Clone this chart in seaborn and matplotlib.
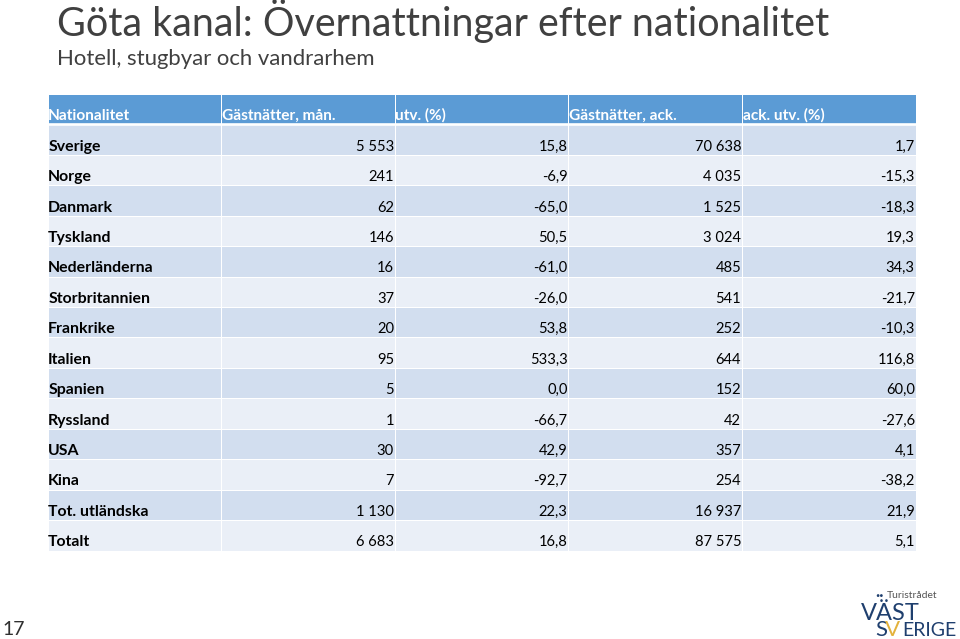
import numpy as np
import pandas as pd
import matplotlib
matplotlib.use("Agg")
import matplotlib.pyplot as plt
from matplotlib.colors import ListedColormap
import seaborn as sns

title = "Göta kanal: Övernattningar efter nationalitet"
subtitle = "Hotell, stugbyar och vandrarhem"
columns = ["Nationalitet", "Gästnätter, mån.", "utv. (%)", "Gästnätter, ack.", "ack. utv. (%)"]
nationalitet = ["Sverige", "Norge", "Danmark", "Tyskland", "Nederländerna", "Storbritannien",
                "Frankrike", "Italien", "Spanien", "Ryssland", "USA", "Kina", "Tot. utländska", "Totalt"]
gastnatter_man = ["5 553", "241", "62", "146", "16", "37", "20", "95", "5", "1", "30", "7", "1 130", "6 683"]
utv_man = ["15,8", "-6,9", "-65,0", "50,5", "-61,0", "-26,0", "53,8", "533,3", "0,0", "-66,7", "42,9", "-92,7", "22,3", "16,8"]
gastnatter_ack = ["70 638", "4 035", "1 525", "3 024", "485", "541", "252", "644", "152", "42", "357", "254", "16 937", "87 575"]
utv_ack = ["1,7", "-15,3", "-18,3", "19,3", "34,3", "-21,7", "-10,3", "116,8", "60,0", "-27,6", "4,1", "-38,2", "21,9", "5,1"]

W, H = 960, 639
FONT = "Lato"
sns.set_theme(style="white")
plt.rcParams["font.family"] = [FONT, "DejaVu Sans"]
plt.rcParams["text.hinting"] = "force_autohint"
plt.rcParams["text.hinting_factor"] = 8

table = pd.DataFrame({c: [c] + list(v) for c, v in zip(columns, [nationalitet, gastnatter_man, utv_man, gastnatter_ack, utv_ack])})
n_rows, n_cols = table.shape
band = np.array([[0 if r == 0 else (1 if r % 2 else 2)] * n_cols for r in range(n_rows)])

fig = plt.figure(figsize=(W / 100, H / 100), dpi=100, facecolor="white")
L, R, T, B = 47.5, 915.5, 94, 550.5
ax = fig.add_axes([L / W, 1 - B / H, (R - L) / W, (B - T) / H])
sns.heatmap(band, ax=ax, cmap=ListedColormap(["#5B9BD5", "#D2DEEF", "#EAEFF7"]), vmin=0, vmax=2,
            cbar=False, linewidths=0.55, linecolor="white", annot=table.values, fmt="",
            xticklabels=False, yticklabels=False)
ax.hlines(1, 0, n_cols, color="white", lw=1.9, zorder=3)

row_h = (B - T) / n_rows
for k, t in enumerate(ax.texts):
    r, c = divmod(k, n_cols)
    head, first = r == 0, c == 0
    x = c + 0.004 if head or first else c + 1 - 0.004
    # baseline on a whole pixel row so every label in a row sits level
    base_px = round(T + (r + 1) * row_h - 4.2)
    t.set_position((x, (base_px - T) / row_h))
    t.set_ha("left" if head or first else "right")
    t.set_va("baseline")
    t.set_fontsize(11.1 if head else 11.4 if first else 10.6)
    t.set_fontfamily(FONT)
    t.set_color("white" if head else "black")
    t.set_fontweight("bold" if head or first else "normal")

def px(x, y, s, **kw):
    return fig.text(x / W, 1 - y / H, s, **kw)

px(57, 36, title, fontsize=28.45, color="#404040", va="baseline")
px(57, 65, subtitle, fontsize=15.9, color="#404040", va="baseline")
px(2, 635, "17", fontsize=14, color="#303030", va="baseline")

# logotype
navy, gold = "#1F3F6E", "#E3B23C"
px(887, 598, "Turistrådet", fontsize=7.5, color="#555555", va="baseline")
px(875, 597, "..", fontsize=13, color=navy, fontweight="bold", va="baseline")
px(861, 620, "VÄST", fontsize=17, color=navy, va="baseline")
px(875, 636, "S", fontsize=16, color=navy, va="baseline")
px(885, 636, "V", fontsize=16, color=gold, va="baseline")
px(902, 636, "ERIGE", fontsize=14, color=navy, va="baseline")

fig.savefig("out.png", dpi=100, facecolor="white")
